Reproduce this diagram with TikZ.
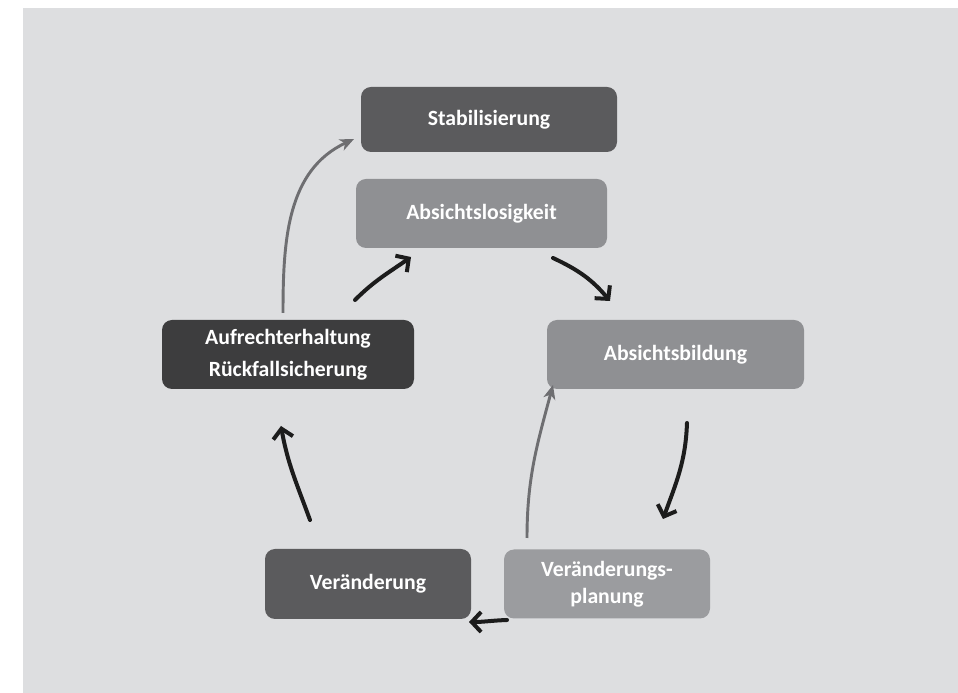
\documentclass[tikz,border=0pt]{standalone}
\usepackage{fontspec}
\setmainfont{Carlito}
\usepackage{tikz}
\usetikzlibrary{arrows.meta}

\definecolor{bggrey}{RGB}{221,222,224}
\definecolor{darkbox}{RGB}{91,91,93}
\definecolor{blackbox}{RGB}{61,61,62}
\definecolor{midbox}{RGB}{143,144,147}
\definecolor{lightbox}{RGB}{155,156,159}
\definecolor{greyline}{RGB}{110,110,113}
\definecolor{blackline}{RGB}{28,28,28}

\begin{document}
\begin{tikzpicture}[x=0.75pt, y=0.75pt]
\tikzset{ box/.style={rounded corners=7.5pt, inner sep=0pt, text=white,
            font=\fontsize{16.3}{24}\selectfont\bfseries, align=center},
          greyarrow/.style={draw=greyline, line width=2.2pt,
            -{Stealth[length=10.5pt, width=9pt, inset=3pt]}},
          blackarrow/.style={draw=blackline, line width=3pt, line cap=round, line join=round,
            -{Straight Barb[length=7pt, width=15pt]}}, }

\useasboundingbox (0,0) rectangle (958,693);
\fill [bggrey] (23,0) rectangle (958,685);

%\draw [lightgray, dashed](0,0) grid[step=50] (958,693);

\node [box, fill=darkbox, minimum width=192pt, minimum height=48.75pt] (stab) at (489,573.5) {Stabilisierung};
\node [box, fill=midbox, minimum width=188.25pt, minimum height=51.75pt] (losig) at (481.5,479.5) {Absichtslosigkeit};
\node [box, fill=blackbox, minimum width=189pt, minimum height=51.75pt] (aufr) at (288,338.5) {Aufrechterhaltung\\Rückfallsicherung};
\node [box, fill=midbox, minimum width=192.75pt, minimum height=51.75pt] (bild) at (675.5,338.5) {Absichtsbildung};
\node [box, fill=lightbox, minimum width=154.5pt, minimum height=51.75pt] (plan) at (607,109) {Veränderungs-\\[-4pt]planung};
\node [box, fill=darkbox, minimum width=154.5pt, minimum height=52.5pt] (veraend) at (368,109) {Veränderung};

% free arrow ends
\coordinate (a1) at (283,380);
\coordinate (b1) at (354,554);
\coordinate (a2) at (355,393);
\coordinate (b2) at (411,436);
\coordinate (a3) at (553,435);
\coordinate (b3) at (610,392);
\coordinate (a4) at (687,270);
\coordinate (b4) at (663,174);
\coordinate (a5) at (527,155);
\coordinate (b5) at (553,308);
\coordinate (a6) at (507,73);
\coordinate (b6) at (469,71);
\coordinate (a7) at (310,173);
\coordinate (b7) at (281,267);

\draw [greyarrow] (a1) to[out=90, in=205] (b1);
\draw [greyarrow] (a5) to[out=90, in=-105] (b5);

\draw [blackarrow] (a2) to[out=45, in=215] (b2);
\draw [blackarrow] (a3) to[out=-25, in=130] (b3);
\draw [blackarrow] (a4) to[out=-92, in=70] (b4);
\draw [blackarrow] (a6) to[out=182, in=0] (b6);
\draw [blackarrow] (a7) to[out=110, in=-80] (b7);

\end{tikzpicture}
\end{document}
